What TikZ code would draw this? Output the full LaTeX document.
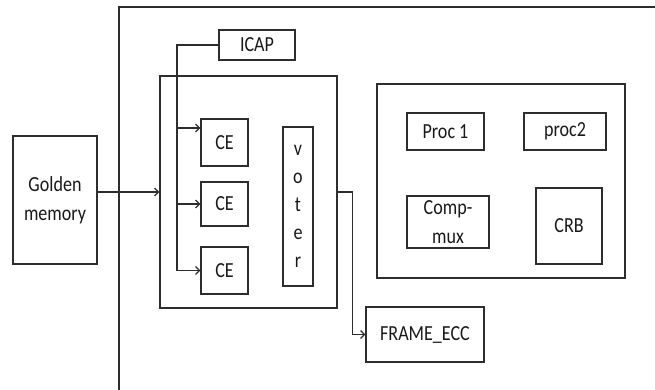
\documentclass[tikz,border=0pt]{standalone}
\usepackage{fontspec}
\setmainfont{Carlito}[FakeStretch=0.84]
\usepackage{xcolor}
\definecolor{BoxLine}{RGB}{45,45,45}
\definecolor{BoxText}{RGB}{25,25,25}
\usepackage{tikz}
\usetikzlibrary{arrows.meta}

\begin{document}
\begin{tikzpicture}[
    x=1pt, y=-1pt,
    block/.style={
        draw=BoxLine, line width=1.2pt,
        inner sep=0pt, align=center,
        font=\fontsize{21.5}{29}\selectfont, text=BoxText
    },
    frame/.style={
        draw=BoxLine, line width=1.2pt
    },
    link/.style={
        ->, >={Straight Barb[length=4pt,width=8pt]}, line width=1.2pt, draw=BoxLine
    }
]
\useasboundingbox (0,0) rectangle (655,390);

% ====== CADRE EXTERIEUR ======
\draw[frame] (655,7) -- (119,7) -- (119,390);

% ====== BLOCS ======
\node[block, minimum width=84pt, minimum height=128pt] (gold)  at ( 55,  200) {Golden\\memory};
\node[block, minimum width=76pt, minimum height=30pt]  (icap)  at (257,   45) {ICAP};
\node[block, minimum width=177pt, minimum height=232pt] (tmr)  at (248.5,192) {};
\node[block, minimum width=47pt, minimum height=47pt]  (ce1)   at (224.5,142.5) {CE};
\node[block, minimum width=47pt, minimum height=44pt]  (ce2)   at (224.5,204) {CE};
\node[block, minimum width=47pt, minimum height=47pt]  (ce3)   at (224.5,270.5) {CE};
\node[block, minimum width=30pt, minimum height=159pt, font=\fontsize{21.5}{28}\selectfont]
    (voter) at (298,206.5) {v\\o\\t\\e\\r};

\node[block, minimum width=248pt, minimum height=194pt] (sys)  at (501,  181) {};
\node[block, minimum width=77pt, minimum height=37pt]  (proc1) at (445.5,131.5) {Proc 1};
\node[block, minimum width=82pt, minimum height=37pt]  (proc2) at (565,  131.5) {proc2};
\node[block, minimum width=82pt, minimum height=52pt]  (cmux)  at (448,  222) {Comp-\\mux};
\node[block, minimum width=66pt, minimum height=76pt]  (crb)   at (569,  226) {CRB};

\node[block, minimum width=118pt, minimum height=55pt] (ecc)   at (425,  334.5) {FRAME\_ECC};

% ====== LIAISONS ======
\coordinate (bus) at (177,45);

% Golden memory -> bloc TMR
\draw[link] (gold.east |- tmr.west) -- (tmr.west);

% ICAP -> CE
\draw[link] (icap.west) -| (bus |- ce3.west) -- (ce3.west);
\draw[link] (bus |- ce2.west) -- (ce2.west);
\draw[link] ([yshift=14.5pt]ce1.west -| bus) -- ([yshift=14.5pt]ce1.west);

% Sortie -> FRAME_ECC
\draw[link] (tmr.east) -- ++(15,0) |- (ecc.west);

\end{tikzpicture}
\end{document}
